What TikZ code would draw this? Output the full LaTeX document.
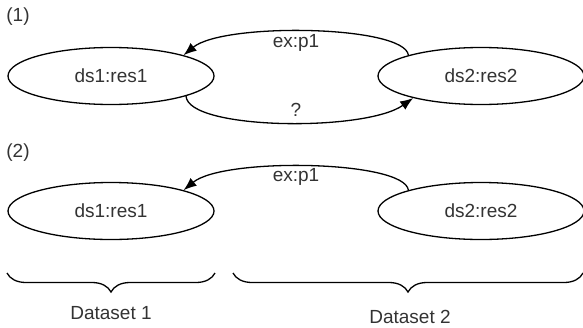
\documentclass[tikz,border=0pt]{standalone}
\usepackage{fontspec}
\setmainfont{Liberation Sans}
\usetikzlibrary{arrows.meta,decorations.pathreplacing,shapes.geometric}

\begin{document}
\begin{tikzpicture}[x=1pt,y=1pt,line width=1.3pt,
  res/.style={draw=black,ellipse,minimum width=206,minimum height=57},
  link/.style={-{Latex[length=13pt,width=10pt]}},
  dsbrace/.style={decorate,decoration={brace,mirror,amplitude=19pt}}]
\tikzstyle{every node}+=[inner sep=0pt,text=black!80,font=\fontsize{19}{22}\selectfont]
\useasboundingbox (0,0) rectangle (583,-327);
% (1)
\node (lbla) at (18,-17) {(1)};
\node [res] (ra) at (111,-76) {ds1:res1};
\node [res] (rb) at (481,-76) {ds2:res2};
\draw [link] (rb.164) .. controls +(-4,30) and +(40,33) .. (ra.16);
\draw [link] (ra.-15) .. controls +(2,-34) and +(-48,-34) .. (rb.198);
\node (pa) at (296,-43) {ex:p1};
\node (qa) at (296,-110) {?};
% (2)
\node (lblb) at (18,-153) {(2)};
\node [res] (rc) at (111,-211) {ds1:res1};
\node [res] (rd) at (481,-211) {ds2:res2};
\draw [link] (rd.164) .. controls +(-4,30) and +(40,33) .. (rc.16);
\node (pb) at (296,-177) {ex:p1};
% datasets
\coordinate (ba) at (7,-273);
\coordinate (bb) at (215,-273);
\coordinate (bc) at (233,-273);
\coordinate (bd) at (583,-273);
\draw [dsbrace] (ba) -- (bb);
\draw [dsbrace] (bc) -- (bd);
\node (da) at (111,-313) {Dataset 1};
\node (db) at (410,-317) {Dataset 2};
\end{tikzpicture}
\end{document}
